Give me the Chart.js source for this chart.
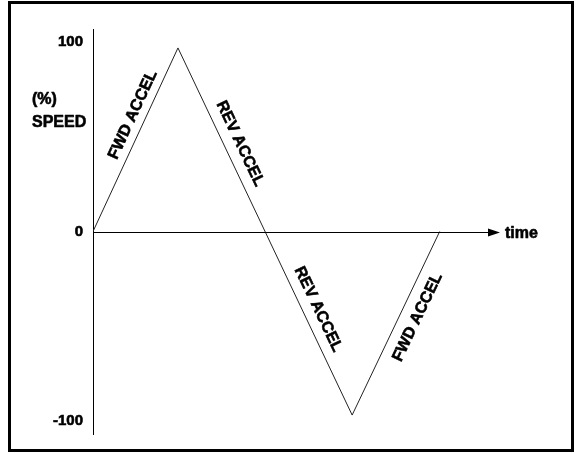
<!DOCTYPE html>
<html><head><meta charset="utf-8">
<script src="https://cdn.jsdelivr.net/npm/chart.js@4/dist/chart.umd.min.js"></script>
<style>html,body{margin:0;padding:0;background:#fff}#wrap{width:576px;height:453px;position:relative}</style>
</head><body><div id="wrap"><canvas id="c" width="576" height="453"></canvas></div>
<script>
// ---- data ----
const timePoints = [0, 1.0, 3.05, 4.08];
const speedValues = [0, 97, -97, 0];
const yTickValues = [-100, 0, 100];
const axisTitleLines = ['(%)', 'SPEED'];
const xAxisLabel = 'time';
const labelTexts = ['FWD ACCEL', 'REV ACCEL', 'REV ACCEL', 'FWD ACCEL'];
const labelSegments = [0, 1, 1, 2];
const labelTimes = [0.47, 1.73, 2.65, 3.82];
const labelSpeeds = [61.7, 46.4, -41.1, -45.3];

const FAMILY = "'Liberation Sans', Arial, sans-serif";
const FONT = "bold 16px " + FAMILY;

function boldText(ctx, t, x, y) {
  ctx.strokeText(t, x, y);
  ctx.fillText(t, x, y);
}

const overlay = {
  id: 'overlay',
  afterDraw(chart) {
    const ctx = chart.ctx, xs = chart.scales.x, ys = chart.scales.y;
    ctx.save();
    // frame
    ctx.strokeStyle = '#000'; ctx.lineWidth = 3;
    ctx.strokeRect(9.5, 2.5, 563, 448);
    // x axis with arrow
    const y0 = Math.round(ys.getPixelForValue(0)) + 0.5;
    const x0 = xs.getPixelForValue(0);
    const tip = chart.chartArea.right;
    ctx.lineWidth = 1;
    ctx.beginPath(); ctx.moveTo(x0, y0); ctx.lineTo(tip - 6, y0); ctx.stroke();
    ctx.fillStyle = '#000';
    ctx.beginPath(); ctx.moveTo(tip - 12, y0 - 4); ctx.lineTo(tip, y0); ctx.lineTo(tip - 12, y0 + 4); ctx.closePath(); ctx.fill();
    ctx.font = FONT; ctx.textBaseline = 'middle'; ctx.textAlign = 'left';
    ctx.lineWidth = 0.6; ctx.lineJoin = 'round';
    boldText(ctx, xAxisLabel, tip + 5, y0 + 1);
    // y axis title
    boldText(ctx, axisTitleLines[0], 32, 100);
    boldText(ctx, axisTitleLines[1], 32, 123);
    // segment labels
    ctx.textAlign = 'center';
    labelTexts.forEach((t, i) => {
      const s = labelSegments[i];
      const p0x = xs.getPixelForValue(timePoints[s]), p0y = ys.getPixelForValue(speedValues[s]);
      const p1x = xs.getPixelForValue(timePoints[s + 1]), p1y = ys.getPixelForValue(speedValues[s + 1]);
      const ang = Math.atan2(p1y - p0y, p1x - p0x);
      const cx = xs.getPixelForValue(labelTimes[i]), cy = ys.getPixelForValue(labelSpeeds[i]);
      ctx.save(); ctx.translate(cx, cy); ctx.rotate(ang);
      boldText(ctx, t, 0, 0);
      ctx.restore();
    });
    ctx.restore();
  }
};

new Chart(document.getElementById('c'), {
  type: 'line',
  data: {
    datasets: [{
      data: timePoints.map((t, i) => ({x: t, y: speedValues[i]})),
      borderColor: '#222', borderWidth: 1, pointRadius: 0, tension: 0, fill: false
    }]
  },
  options: {
    responsive: false, animation: false, devicePixelRatio: 1,
    layout: {padding: {top: 29, bottom: 18, left: 0, right: 76}},
    plugins: {legend: {display: false}, tooltip: {enabled: false}},
    scales: {
      x: {type: 'linear', min: 0, max: 4.79, display: false},
      y: {
        type: 'linear', min: -107, max: 107, position: 'left',
        afterFit(scale) { scale.width = 93; },
        afterBuildTicks(scale) { scale.ticks = yTickValues.map(v => ({value: v})); },
        grid: {display: false, drawTicks: false},
        border: {display: true, color: '#000', width: 1},
        ticks: {color: '#000', padding: 10, textStrokeColor: '#000', textStrokeWidth: 0.6,
                font: {family: FAMILY, size: 15, weight: 'bold'}}
      }
    }
  },
  plugins: [overlay]
});
</script></body></html>
